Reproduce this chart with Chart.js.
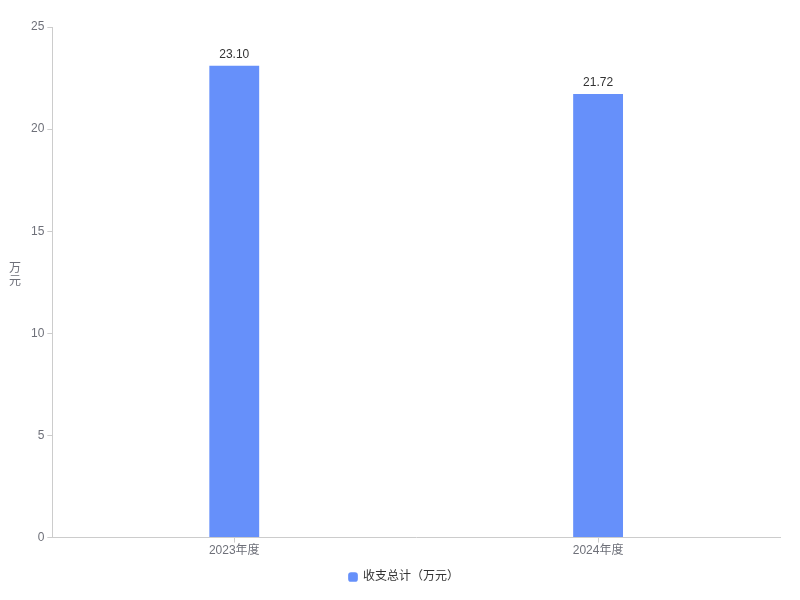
<!DOCTYPE html>
<html><head><meta charset="utf-8">
<script src="https://cdn.jsdelivr.net/npm/chart.js@4/dist/chart.umd.min.js"></script>
<style>html,body{margin:0;padding:0;background:#fff}#wrap{width:800px;height:600px}</style>
</head><body><div id="wrap"><canvas id="c" width="800" height="600"></canvas></div>
<script>
const categories = ['2023年度', '2024年度'];
const seriesName = '收支总计（万元）';
const values = [23.10, 21.72];
const yTicks = [0, 5, 10, 15, 20, 25];
const yTitle = ['万', '元'];
const FONT = '"Liberation Sans", "Noto Sans CJK SC", sans-serif';

const labelPlugin = {
  id: 'labels',
  afterDatasetsDraw(chart) {
    const ctx = chart.ctx;
    const meta = chart.getDatasetMeta(0);
    ctx.save();
    ctx.font = '12px ' + FONT;
    ctx.fillStyle = '#333';
    ctx.textAlign = 'center';
    ctx.textBaseline = 'bottom';
    meta.data.forEach((bar, i) => {
      ctx.fillText(values[i].toFixed(2), bar.x, bar.y - 5);
    });
    ctx.fillStyle = '#6e7079';
    ctx.textBaseline = 'middle';
    ctx.fillText(yTitle[0], 15, 269);
    ctx.fillText(yTitle[1], 15, 282);
    ctx.restore();
  }
};

new Chart(document.getElementById('c'), {
  type: 'bar',
  data: {
    labels: categories,
    datasets: [{
      label: seriesName,
      data: values,
      backgroundColor: '#6690fa',
      borderWidth: 0,
      categoryPercentage: 1,
      barPercentage: 0.137
    }]
  },
  options: {
    responsive: false,
    animation: false,
    layout: { padding: { left: 28, right: 20, top: 27, bottom: 7 } },
    plugins: {
      legend: {
        position: 'bottom',
        labels: {
          usePointStyle: true, pointStyle: 'rectRounded', boxWidth: 8, boxHeight: 8,
          color: '#333', font: { size: 12, family: FONT }, padding: 12
        }
      },
      tooltip: { enabled: false }
    },
    scales: {
      x: {
        grid: { display: true, drawOnChartArea: false, offset: false, tickLength: 5, color: '#ccc' },
        border: { color: '#ccc' },
        ticks: { color: '#6e7079', font: { size: 12, family: FONT }, padding: 1 }
      },
      y: {
        min: 0, max: 25,
        afterBuildTicks(axis) { axis.ticks = yTicks.map(v => ({ value: v })); },
        grid: { display: true, drawOnChartArea: false, tickLength: 5, color: '#ccc' },
        border: { color: '#ccc' },
        ticks: { color: '#6e7079', font: { size: 12, family: FONT }, padding: 3 }
      }
    }
  },
  plugins: [labelPlugin]
});
</script></body></html>
